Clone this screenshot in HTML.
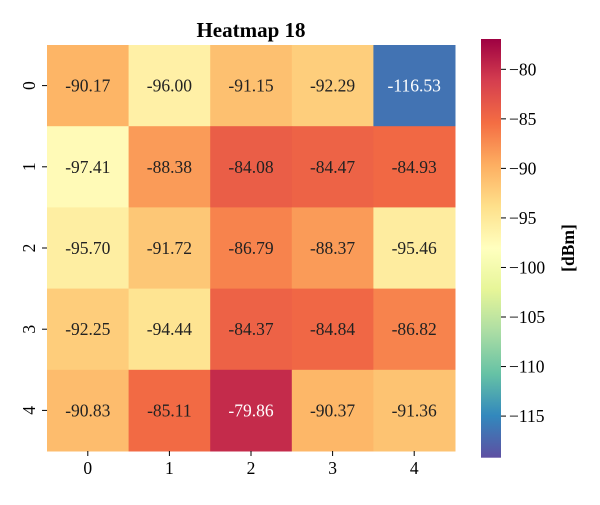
<!DOCTYPE html>
<html><head><meta charset="utf-8"><style>
body{margin:0;background:#fff;}
text{font-family:"Liberation Serif",serif;}
</style></head><body>
<svg id="c" width="600" height="500" xmlns="http://www.w3.org/2000/svg">
<defs><linearGradient id="g" x1="0" y1="1" x2="0" y2="0"></linearGradient></defs>
<text x="251" y="37" text-anchor="middle" font-size="21" font-weight="bold">Heatmap 18</text>
</svg>
<script>
const rowLabels=["0","1","2","3","4"];
const colLabels=["0","1","2","3","4"];
const values=[
[-90.17,-96.00,-91.15,-92.29,-116.53],
[-97.41,-88.38,-84.08,-84.47,-84.93],
[-95.70,-91.72,-86.79,-88.37,-95.46],
[-92.25,-94.44,-84.37,-84.84,-86.82],
[-90.83,-85.11,-79.86,-90.37,-91.36]];
const cbTicks=[-80,-85,-90,-95,-100,-105,-110,-115];
const vmin=-119.2, vmax=-76.94;
const pal=["#5e4fa2","#3288bd","#66c2a5","#abdda4","#e6f598","#ffffbf","#fee08b","#fdae61","#f46d43","#d53e4f","#9e0142"];
const NS="http://www.w3.org/2000/svg";
const svg=document.getElementById('c');
function hex(h){return [1,3,5].map(i=>parseInt(h.substr(i,2),16));}
function color(v){let t=Math.max(0,Math.min(1,(v-vmin)/(vmax-vmin)))*10;let i=Math.min(9,Math.floor(t)),f=t-i;
const a=hex(pal[i]),b=hex(pal[i+1]);const c=a.map((x,k)=>Math.round(x+(b[k]-x)*f));
return {css:`rgb(${c})`,lum:(0.299*c[0]+0.587*c[1]+0.114*c[2])};}
const X0=47,X1=455,Y0=45,Y1=451;
const cw=(X1-X0)/colLabels.length, ch=(Y1-Y0)/rowLabels.length;
function el(t,a,txt){const e=document.createElementNS(NS,t);for(const k in a)e.setAttribute(k,a[k]);if(txt!=null)e.textContent=txt;svg.appendChild(e);return e;}
values.forEach((row,r)=>row.forEach((v,c)=>{
 const col=color(v);
 const rc=el('rect',{x:X0+c*cw,y:Y0+r*ch,width:cw+0.5,height:ch+0.5,fill:col.css});
 
 
 const t=el('text',{x:X0+(c+0.5)*cw,y:Y0+(r+0.5)*ch+6,'text-anchor':'middle','font-size':'17.5',fill:col.lum<110?'#fff':'#222'},v.toFixed(2));
 
 
}));
colLabels.forEach((l,i)=>{const x=X0+(i+0.5)*cw;
 el('line',{x1:x,x2:x,y1:Y1,y2:Y1+5,stroke:'#000'});
 const t=el('text',{x:x,y:Y1+23,'text-anchor':'middle','font-size':'17.5'},l);
 
 });
rowLabels.forEach((l,i)=>{const y=Y0+(i+0.5)*ch;
 el('line',{x1:X0-5,x2:X0,y1:y,y2:y,stroke:'#000'});
 const t=el('text',{x:0,y:0,'text-anchor':'middle','font-size':'17.5',transform:`translate(35,${y}) rotate(-90)`},l);
 
 });
const CX=481,CW=20,CY0=39,CY1=457.7;
const g=document.getElementById('g');
pal.forEach((p,i)=>{const s=document.createElementNS(NS,'stop');s.setAttribute('offset',i/10);s.setAttribute('stop-color',p);g.appendChild(s);});
const cb=el('rect',{x:CX,y:CY0,width:CW,height:CY1-CY0,fill:'url(#g)'});


function cy(v){return CY1-(v-vmin)/(vmax-vmin)*(CY1-CY0);}
cbTicks.forEach(v=>{const y=cy(v);
 el('line',{x1:CX+CW,x2:CX+CW+5,y1:y,y2:y,stroke:'#000'});
 const t=el('text',{x:CX+CW+8,y:y+6,'font-size':'17.5'},'\u2212'+Math.abs(v));
 
 });
const lab=el('text',{x:0,y:0,'text-anchor':'middle','font-size':'17.5','font-weight':'bold',transform:'translate(574,248) rotate(-90)'},'[dBm]');


</script>
</body></html>
